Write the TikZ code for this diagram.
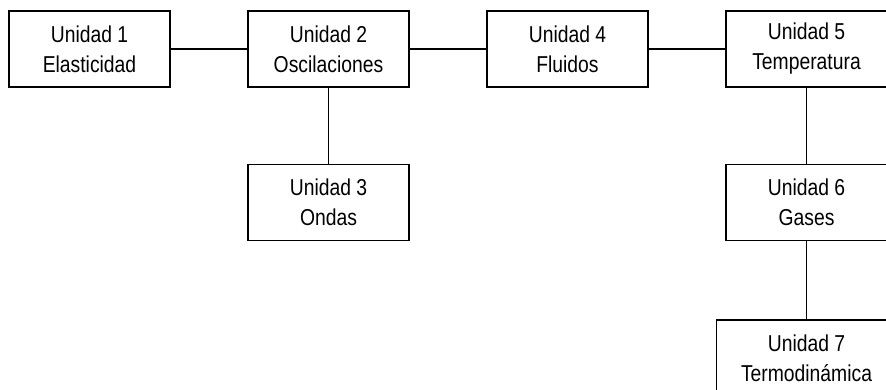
\documentclass[tikz,border=0pt]{standalone}
\usepackage{fontspec}
\setmainfont{Liberation Sans}[FakeStretch=0.84]

\begin{document}
\begin{tikzpicture}[x=1pt,y=-1pt]
\tikzset{node distance=239pt,
    block/.style={rectangle, draw, line width=1.4pt, minimum height=76pt, minimum width=161pt,
      align=center, font=\fontsize{23}{30}\selectfont},
    link/.style={line width=1.4pt}
}

  \useasboundingbox (0,0) rectangle (886,390);
  \node[block] (U1) at (89.5,49) {Unidad 1\\Elasticidad};
  \node[block, right of=U1] (U2) {Unidad 2\\Oscilaciones};
  \node[block, right of=U2] (U4) {Unidad 4\\Fluidos};
  \node[block, right of=U4] (U5) {Unidad 5\\Temperatura};
  \node[block, below of=U2, node distance=153.5pt] (U3) {Unidad 3\\Ondas};
  \node[block, below of=U5, node distance=153.5pt] (U6) {Unidad 6\\Gases};
  \node[block, below of=U6, node distance=155.5pt, minimum width=180pt] (U7) {Unidad 7\\Termodin\'amica};
  \draw[link] (U1) -- (U2);
  \draw[link] (U2) -- (U4);
  \draw[link] (U4) -- (U5);
  \draw[link] (U2) -- (U3);
  \draw[link] (U5) -- (U6);
  \draw[link] (U6) -- (U7);
\end{tikzpicture}
\end{document}
